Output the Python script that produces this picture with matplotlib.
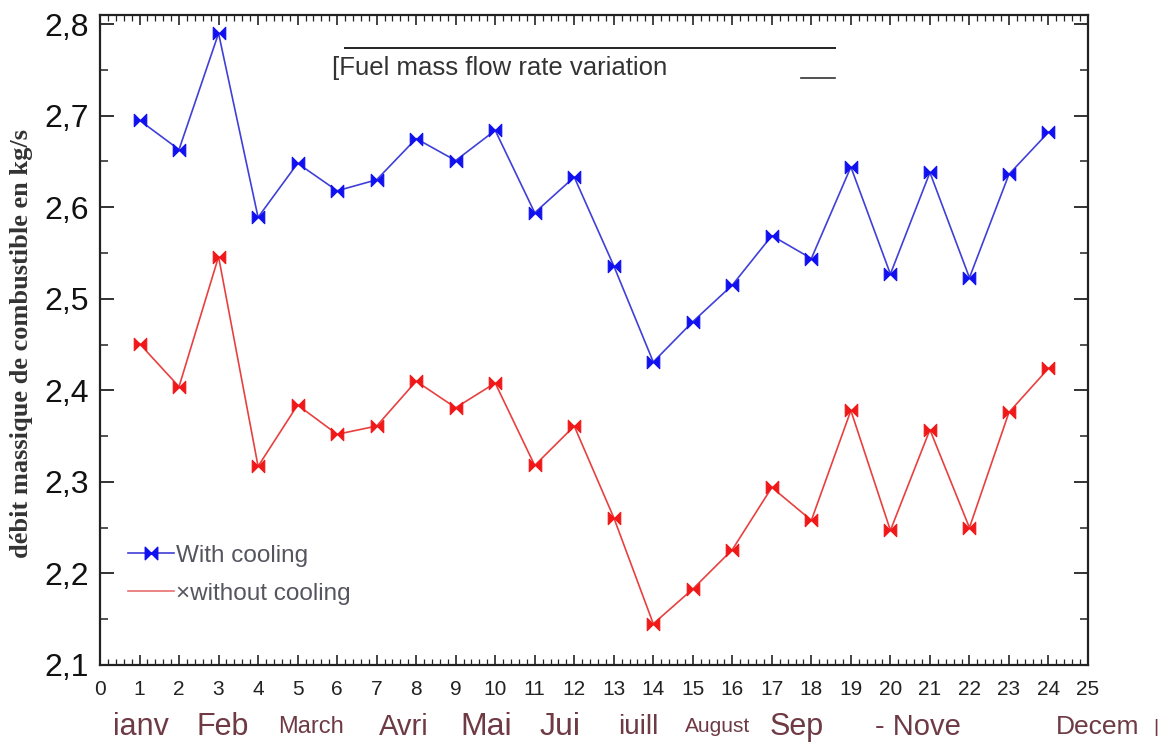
import matplotlib
matplotlib.use("Agg")
import matplotlib.pyplot as plt
from matplotlib.path import Path
from matplotlib.lines import Line2D
from matplotlib.ticker import MultipleLocator, FuncFormatter

# ---- data ----
hours = list(range(1, 25))
with_cooling = [2.695, 2.663, 2.790, 2.589, 2.648, 2.618, 2.630, 2.675, 2.651, 2.684,
                2.594, 2.633, 2.536, 2.431, 2.475, 2.515, 2.569, 2.544, 2.644, 2.527,
                2.638, 2.523, 2.636, 2.682]
without_cooling = [2.451, 2.404, 2.546, 2.317, 2.384, 2.352, 2.361, 2.410, 2.381, 2.408,
                   2.318, 2.361, 2.261, 2.145, 2.183, 2.226, 2.294, 2.258, 2.378, 2.247,
                   2.357, 2.250, 2.376, 2.424]
x_ticks = list(range(0, 26))
y_ticks = [2.1, 2.2, 2.3, 2.4, 2.5, 2.6, 2.7, 2.8]
month_labels = ["ianv", "Feb", "March", "Avri", "Mai", "Jui", "iuill", "August",
                "Sep", "- Nove", "Decem", "|"]
title_text = "[Fuel mass flow rate variation"
ylabel_text = "débit massique de combustible en kg/s"
legend_labels = ["With cooling", "\u00d7without cooling"]

W, H = 1168, 742
fig = plt.figure(figsize=(W / 100, H / 100), dpi=100)
ax = fig.add_axes([100 / W, 1 - 665 / H, 988 / W, 650 / H])

bowtie = Path([(-1, -1), (-1, 1), (1, -1), (1, 1), (-1, -1)],
              [Path.MOVETO, Path.LINETO, Path.LINETO, Path.LINETO, Path.CLOSEPOLY])

ax.plot(hours, with_cooling, color="#4040d8", lw=1.2, marker=bowtie, ms=9,
        mfc="#1010f0", mec="#1010f0", mew=0.8, zorder=3)
ax.plot(hours, without_cooling, color="#e84040", lw=1.2, marker=bowtie, ms=9,
        mfc="#f01818", mec="#f01818", mew=0.8, zorder=3)

ax.set_xlim(0, 25)
ax.set_ylim(2.1, 2.81)
ax.set_xticks(x_ticks)
ax.set_yticks(y_ticks)
ax.xaxis.set_minor_locator(MultipleLocator(0.2))
ax.yaxis.set_minor_locator(MultipleLocator(0.05))
ax.yaxis.set_major_formatter(FuncFormatter(lambda v, p: f"{v:.1f}".replace(".", ",")))

for s in ax.spines.values():
    s.set_linewidth(1.6)
    s.set_color("#222222")

ax.tick_params(which="both", direction="in", top=True, right=True, color="#222222")
ax.tick_params(axis="y", which="major", length=10, width=1.3, pad=8)
ax.tick_params(axis="y", which="minor", length=6, width=1.1)
ax.tick_params(axis="x", which="major", length=7, width=1.2, pad=11)
ax.tick_params(axis="x", which="minor", length=4, width=0.9)

for lab in ax.get_yticklabels():
    lab.set_fontfamily(["Liberation Sans", "DejaVu Sans"])
    lab.set_fontsize(23)
    lab.set_color("#111111")
for lab in ax.get_xticklabels():
    lab.set_fontfamily(["Liberation Sans Narrow", "Liberation Sans", "DejaVu Sans"])
    lab.set_fontsize(15)
    lab.set_color("#222222")

ax.set_ylabel(ylabel_text, fontfamily=["Liberation Serif", "DejaVu Serif"],
              fontweight="bold", fontsize=19, color="#333333")
ax.yaxis.set_label_coords(-(100 - 33) / 988, (665 - 343) / 650)

# title box
ax.plot([0.248, 0.744], [0.949, 0.949], transform=ax.transAxes, color="#222222",
        lw=1.4, clip_on=False)
ax.plot([0.71, 0.744], [0.903, 0.903], transform=ax.transAxes, color="#333333",
        lw=1.2, clip_on=False)
ax.text(0.235, 0.918, title_text, transform=ax.transAxes, ha="left", va="center",
        fontsize=18.5, color="#333333", fontfamily=["Liberation Sans", "DejaVu Sans"])

# legend
h1 = Line2D([], [], color="#4040d8", lw=1.2, marker=bowtie, ms=9,
            mfc="#1010f0", mec="#1010f0")
h2 = Line2D([], [], color="#e87070", lw=1.2)
leg = ax.legend([h1, h2], legend_labels, loc="upper left",
                bbox_to_anchor=(0.018, 0.2), frameon=False, handlelength=1.9,
                handletextpad=0.1, labelspacing=0.65, borderaxespad=0,
                prop={"family": ["Liberation Sans", "DejaVu Sans"], "size": 17.5})
for t in leg.get_texts():
    t.set_color("#555560")

# month labels under the axis
month_x = [141, 223, 311, 404, 486, 560, 638, 718, 797, 918, 1098, 1156]
month_size = [22, 22, 17, 21, 23, 23, 20, 15, 22, 21, 19, 14]
month_family = [["Liberation Sans"]] * 7 + [["Liberation Sans Narrow", "Liberation Sans"]] + [["Liberation Sans"]] * 4
for lab, xp, sz, fam in zip(month_labels, month_x, month_size, month_family):
    fig.text(xp / W, 1 - 727 / H, lab, ha="center", va="center", fontsize=sz,
             color="#6e3a44", fontfamily=fam + ["DejaVu Sans"])

fig.savefig("out.png", dpi=100)
